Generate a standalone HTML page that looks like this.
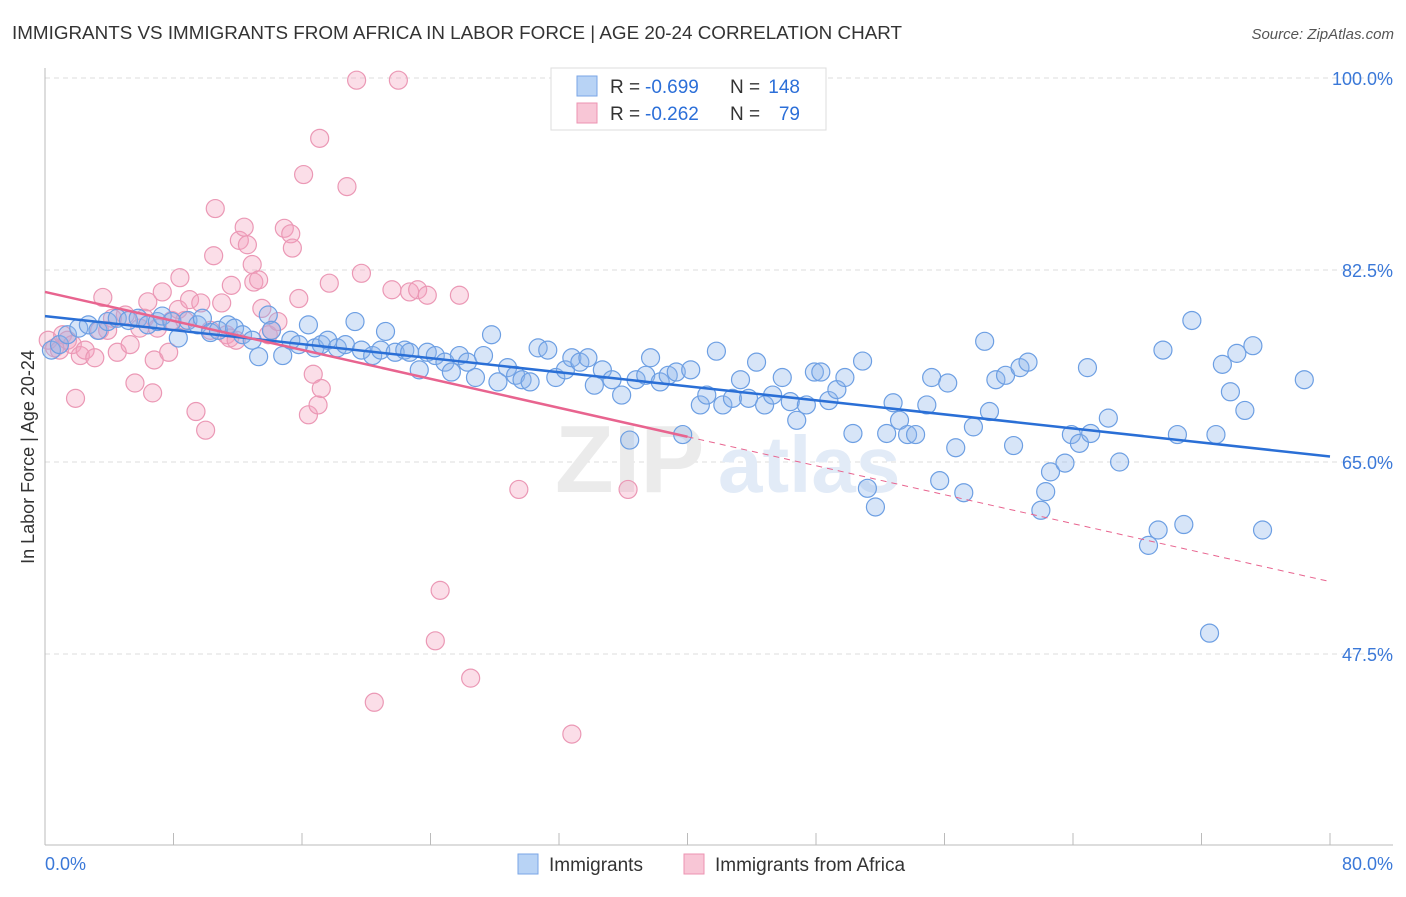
<!DOCTYPE html>
<html><head><meta charset="utf-8"><style>
body{margin:0;background:#fff;font-family:"Liberation Sans",sans-serif;}
svg text{font-family:"Liberation Sans",sans-serif;}
</style></head><body>
<svg id="chart" width="1406" height="892" viewBox="0 0 1406 892" xmlns="http://www.w3.org/2000/svg">
<text x="12" y="39" font-size="18" fill="#333" textLength="890" lengthAdjust="spacingAndGlyphs">IMMIGRANTS VS IMMIGRANTS FROM AFRICA IN LABOR FORCE | AGE 20-24 CORRELATION CHART</text>
<text x="1394" y="39" font-size="15" fill="#555" font-style="italic" text-anchor="end">Source: ZipAtlas.com</text>
<g id="grid"></g>
<g>
<text x="555" y="492" font-size="96" font-family="Liberation Serif" fill="#ebebeb" font-weight="bold">ZIP</text>
<text x="718" y="492" font-size="80" fill="#e2ebf7" font-weight="bold">atlas</text>
</g>
<g id="pts"></g>
<g id="lines"></g>
<text transform="translate(34,457) rotate(-90)" font-size="18" fill="#333" text-anchor="middle">In Labor Force | Age 20-24</text>
<g>
<rect x="551" y="68" width="275" height="62" fill="#fff" stroke="#ddd"/>
<rect x="577" y="76" width="20" height="20" fill="#b8d3f5" stroke="#7aa6e6"/>
<rect x="577" y="103" width="20" height="20" fill="#f8c6d6" stroke="#ec93b2"/>
<text x="610" y="93" font-size="19" fill="#333">R = </text><text x="645" y="93" font-size="19" fill="#2c6fd8">-0.699</text>
<text x="730" y="93" font-size="19" fill="#333">N = </text><text x="800" y="93" font-size="19" fill="#2c6fd8" text-anchor="end">148</text>
<text x="610" y="120" font-size="19" fill="#333">R = </text><text x="645" y="120" font-size="19" fill="#2c6fd8">-0.262</text>
<text x="730" y="120" font-size="19" fill="#333">N = </text><text x="800" y="120" font-size="19" fill="#2c6fd8" text-anchor="end">79</text>
</g>
<g>
<rect x="518" y="854" width="20" height="20" fill="#b8d3f5" stroke="#7aa6e6"/>
<text x="549" y="871" font-size="19" fill="#333">Immigrants</text>
<rect x="684" y="854" width="20" height="20" fill="#f8c6d6" stroke="#ec93b2"/>
<text x="715" y="871" font-size="19" fill="#333">Immigrants from Africa</text>
</g>
</svg>
<script>
const xTicks=[0,8,16,24,32,40,48,56,64,72,80];
const yTicks=[47.5,65,82.5,100];
const yTickLabels=["47.5%","65.0%","82.5%","100.0%"];
const xEndLabels=["0.0%","80.0%"];
const blueX=[0.4,0.9,1.4,2.1,2.7,3.3,3.9,4.5,5.2,5.8,6.4,7.0,7.3,7.9,8.3,8.9,9.5,9.8,10.3,10.8,11.4,11.8,12.3,12.9,13.3,13.9,14.1,14.8,15.3,15.8,16.4,16.8,17.2,17.6,18.2,18.7,19.3,19.7,20.4,20.9,21.2,21.8,22.4,22.7,23.3,23.8,24.3,24.9,25.3,25.8,26.3,26.8,27.3,27.8,28.2,28.8,29.3,29.7,30.2,30.7,31.3,31.8,32.4,32.8,33.3,33.8,34.2,34.7,35.3,35.9,36.4,36.8,37.4,37.7,38.3,38.8,39.3,39.7,40.2,40.8,41.2,41.8,42.2,42.8,43.3,43.8,44.3,44.8,45.3,45.9,46.4,46.8,47.4,47.9,48.3,48.8,49.3,49.8,50.3,50.9,51.2,51.7,52.4,52.8,53.2,53.7,54.2,54.9,55.2,55.7,56.2,56.7,57.2,57.8,58.5,58.8,59.2,59.8,60.3,60.7,61.2,62.0,62.3,62.6,63.5,63.9,64.4,65.1,64.9,66.2,66.9,68.7,69.3,69.6,70.5,70.9,71.4,72.5,72.9,73.3,73.8,74.2,74.7,75.2,75.8,78.4];
const blueY=[75.2,75.7,76.6,77.2,77.5,77.0,77.8,78.1,77.9,78.1,77.5,77.8,78.3,77.8,76.3,77.9,77.5,78.1,76.8,77.0,77.5,77.2,76.6,76.1,74.6,78.4,77.0,74.7,76.1,75.7,77.5,75.4,75.7,76.1,75.4,75.7,77.8,75.2,74.7,75.2,76.9,75.0,75.2,75.0,73.4,75.0,74.7,74.1,73.2,74.7,74.1,72.7,74.7,76.6,72.3,73.6,72.9,72.5,72.3,75.4,75.2,72.7,73.4,74.5,74.1,74.5,72.0,73.4,72.5,71.1,67.0,72.5,72.9,74.5,72.3,72.9,73.2,67.5,73.4,70.2,71.1,75.1,70.2,70.8,72.5,70.8,74.1,70.2,71.1,72.7,70.5,68.8,70.2,73.2,73.2,70.6,71.6,72.7,67.6,74.2,62.6,60.9,67.6,70.4,68.8,67.5,67.5,70.2,72.7,63.3,72.2,66.3,62.2,68.2,76.0,69.6,72.5,72.9,66.5,73.6,74.1,60.6,62.3,64.1,64.9,67.5,66.7,67.6,73.6,69.0,65.0,57.4,58.8,75.2,67.5,59.3,77.9,49.4,67.5,73.9,71.4,74.9,69.7,75.6,58.8,72.5];
const pinkX=[0.2,0.6,0.9,1.1,1.4,1.7,1.9,2.2,2.5,3.1,3.4,3.6,3.9,4.2,4.5,5.0,5.3,5.6,5.9,6.2,6.4,6.7,6.8,7.0,7.3,7.7,7.9,8.3,8.4,8.7,9.0,9.4,9.7,10.0,10.3,10.5,10.6,11.0,11.3,11.5,11.6,11.9,12.1,12.4,12.6,12.9,13.0,13.3,13.5,13.9,14.1,14.5,14.9,15.3,15.4,15.8,16.1,16.4,16.7,17.0,17.1,17.2,17.7,18.8,19.4,19.7,20.5,21.6,22.0,22.7,23.2,23.8,24.3,24.6,25.8,26.5,29.5,32.8,36.3];
const pinkY=[76.1,75.4,75.2,76.6,76.1,75.7,70.8,74.7,75.2,74.5,77.0,80.0,77.0,78.1,75.0,78.4,75.7,72.2,77.2,78.1,79.6,71.3,74.3,77.2,80.5,75.0,77.9,78.9,81.8,77.9,79.8,69.6,79.5,67.9,77.0,83.8,88.1,79.5,76.6,76.3,81.1,76.1,85.2,86.4,84.8,83.0,81.4,81.6,79.0,76.6,77.0,77.8,86.3,85.8,84.5,79.9,91.2,69.3,73.0,70.2,94.5,71.7,81.3,90.1,99.8,82.2,43.1,80.7,99.8,80.5,80.7,80.2,48.7,53.3,80.2,45.3,62.5,40.2,62.5];
const blueTrend=[78.3,65.5];
const pinkTrend=[80.5,54.1];
const pinkSolidEnd=40;
const NS="http://www.w3.org/2000/svg";
const X0=45,X1=1330,Y100=78,Y47=654;
const xs=v=>X0+(v/80)*(X1-X0);
const ys=v=>Y100+(100-v)*(Y47-Y100)/52.5;
function mk(tag,attrs,parent){const e=document.createElementNS(NS,tag);for(const k in attrs)e.setAttribute(k,attrs[k]);parent.appendChild(e);return e;}
const grid=document.getElementById('grid');
yTicks.forEach((t,i)=>{
 const l=mk('line',{x1:X0,x2:1393,y1:ys(t),y2:ys(t),stroke:'#ddd','stroke-dasharray':'5,4'},grid);
 
 
 const tx=mk('text',{x:1393,y:ys(t)+7,'font-size':18,fill:'#3a78d8','text-anchor':'end'},grid);
 tx.textContent=yTickLabels[i];
 
 
});
const ax=mk('line',{x1:X0,x2:X0,y1:68,y2:845,stroke:'#bbb'},grid);


const bx=mk('line',{x1:X0,x2:1393,y1:845,y2:845,stroke:'#bbb'},grid);


xTicks.forEach(t=>{
 const l=mk('line',{x1:xs(t),x2:xs(t),y1:833,y2:845,stroke:'#bbb'},grid);
 
 
});
[[0,'start'],[80,'end']].forEach((p,i)=>{
 const tx=mk('text',{x:i?1393:45,y:870,'font-size':18,fill:'#3a78d8','text-anchor':p[1]},grid);
 tx.textContent=xEndLabels[i];
 
 
});
const pts=document.getElementById('pts');
pinkX.forEach((x,i)=>{
 const c=mk('circle',{cx:xs(x),cy:ys(pinkY[i]),r:9,fill:'rgba(244,160,190,0.35)',stroke:'#eb98b5','stroke-width':1.2},pts);
 
 
});
blueX.forEach((x,i)=>{
 const c=mk('circle',{cx:xs(x),cy:ys(blueY[i]),r:9,fill:'rgba(140,180,235,0.35)',stroke:'#6d9fe3','stroke-width':1.2},pts);
 
 
});
const lines=document.getElementById('lines');
const pAt=x=>pinkTrend[0]+(pinkTrend[1]-pinkTrend[0])*x/80;
const l1=mk('line',{x1:xs(0),y1:ys(blueTrend[0]),x2:xs(80),y2:ys(blueTrend[1]),stroke:'#2a6fd6','stroke-width':2.5},lines);


const l2=mk('line',{x1:xs(0),y1:ys(pAt(0)),x2:xs(pinkSolidEnd),y2:ys(pAt(pinkSolidEnd)),stroke:'#e8648f','stroke-width':2.5},lines);


const l3=mk('line',{x1:xs(pinkSolidEnd),y1:ys(pAt(pinkSolidEnd)),x2:xs(80),y2:ys(pAt(80)),stroke:'#e8648f','stroke-width':1,'stroke-dasharray':'6,5'},lines);


</script>
</body></html>
